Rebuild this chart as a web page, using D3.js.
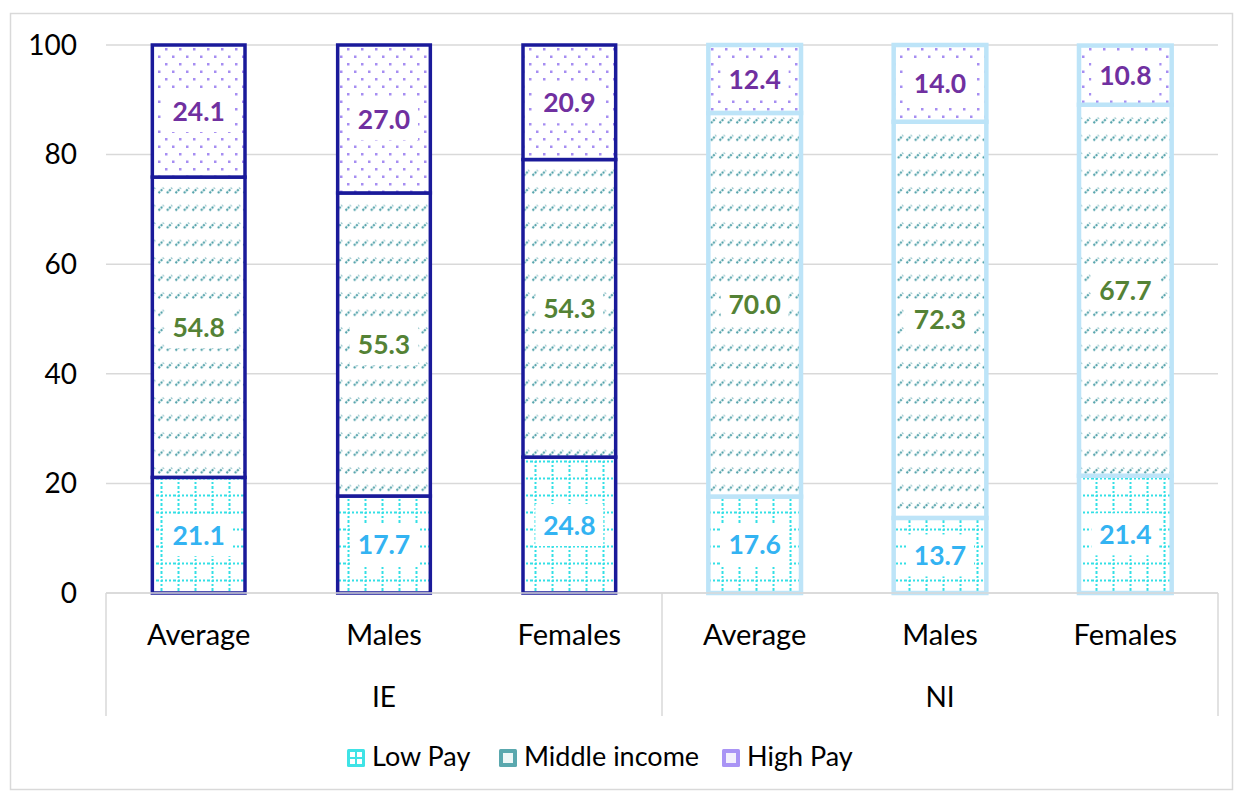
<!DOCTYPE html>
<html>
<head>
<meta charset="utf-8">
<script src="https://cdn.jsdelivr.net/npm/d3@7"></script>
<style>
  body { margin: 0; background: #fff; }
  svg { font-family: Lato, "Noto Sans", sans-serif; }
</style>
</head>
<body>
<div id="wrapper"></div>
<script>
const categories = ["Average", "Males", "Females", "Average", "Males", "Females"];
const groups = ["IE", "NI"];
const groupOf = ["IE", "IE", "IE", "NI", "NI", "NI"];
const lowPay = [21.1, 17.7, 24.8, 17.6, 13.7, 21.4];
const middleIncome = [54.8, 55.3, 54.3, 70.0, 72.3, 67.7];
const highPay = [24.1, 27.0, 20.9, 12.4, 14.0, 10.8];
const seriesNames = ["Low Pay", "Middle income", "High Pay"];
const yTicks = [0, 20, 40, 60, 80, 100];

function drawChart() {
  const dimensions = {
    width: 1236,
    height: 794,
    margin: { top: 45, right: 18, bottom: 201, left: 106 },
  };
  dimensions.boundedWidth = 1218 - dimensions.margin.left;
  dimensions.boundedHeight = 593 - dimensions.margin.top;

  const svg = d3.select("#wrapper").append("svg")
    .attr("width", dimensions.width)
    .attr("height", dimensions.height);

  // chart border
  svg.append("rect")
    .attr("x", 10.5).attr("y", 13.5)
    .attr("width", 1222).attr("height", 776)
    .attr("fill", "#fff")
    .attr("stroke", "#d9d9d9")
    .attr("stroke-width", 1.5);

  const defs = svg.append("defs");

  // low pay: dotted cyan grid
  const pLow = defs.append("pattern")
    .attr("id", "pLow").attr("patternUnits", "userSpaceOnUse")
    .attr("width", 17).attr("height", 17);
  pLow.append("rect").attr("width", 17).attr("height", 17).attr("fill", "#fff");
  pLow.append("path")
    .attr("d", "M4.5,0V17M0,8.5H17")
    .attr("stroke", "#33e0e6").attr("stroke-width", 2)
    .attr("stroke-dasharray", "2,2").attr("fill", "none");

  // middle income: rows of short dashed diagonals
  const pMid = defs.append("pattern")
    .attr("id", "pMid").attr("patternUnits", "userSpaceOnUse")
    .attr("width", 8.5).attr("height", 17.5);
  pMid.append("rect").attr("width", 8.5).attr("height", 17.5).attr("fill", "#fff");
  pMid.append("path")
    .attr("d", "M1.5,8L6.5,3")
    .attr("stroke", "#3f98a1").attr("stroke-width", 2)
    .attr("stroke-dasharray", "2,1.2").attr("fill", "none");

  // high pay: staggered purple dots
  const pHigh = defs.append("pattern")
    .attr("id", "pHigh").attr("patternUnits", "userSpaceOnUse")
    .attr("width", 14).attr("height", 15);
  pHigh.append("rect").attr("width", 14).attr("height", 15).attr("fill", "#fff");
  pHigh.append("rect").attr("x", 3).attr("y", 3).attr("width", 2.5).attr("height", 2.5).attr("fill", "#a68df2");
  pHigh.append("rect").attr("x", 10).attr("y", 10.5).attr("width", 2.5).attr("height", 2.5).attr("fill", "#a68df2");

  const bounds = svg.append("g")
    .attr("transform", `translate(${dimensions.margin.left},${dimensions.margin.top})`);

  const yScale = d3.scaleLinear()
    .domain([0, 100])
    .range([dimensions.boundedHeight, 0]);

  const xScale = d3.scaleBand()
    .domain(d3.range(categories.length))
    .range([0, dimensions.boundedWidth])
    .paddingInner(0.5)
    .paddingOuter(0.25);

  // gridlines
  bounds.append("g").selectAll("line")
    .data(yTicks)
    .join("line")
    .attr("x1", 0).attr("x2", dimensions.boundedWidth)
    .attr("y1", d => yScale(d)).attr("y2", d => yScale(d))
    .attr("stroke", "#d9d9d9").attr("stroke-width", 1.5);

  // y tick labels
  bounds.append("g").selectAll("text")
    .data(yTicks)
    .join("text")
    .attr("x", -29)
    .attr("y", d => yScale(d))
    .attr("dy", "0.35em")
    .attr("text-anchor", "end")
    .attr("font-size", 28)
    .attr("fill", "#000")
    .text(d => d);

  const rows = categories.map((c, i) => ({
    i,
    low: lowPay[i],
    mid: middleIncome[i],
    high: highPay[i],
  }));
  const keys = ["low", "mid", "high"];
  const stacked = d3.stack().keys(keys)(rows);

  const fills = { low: "url(#pLow)", mid: "url(#pMid)", high: "url(#pHigh)" };
  const labelColors = { low: "#33b3f2", mid: "#548235", high: "#7030a0" };
  const strokeFor = i => groupOf[i] === "IE" ? "#1a1a9a" : "#bde4f8";
  const strokeW = i => groupOf[i] === "IE" ? 3.5 : 4.5;

  stacked.forEach(layer => {
    const g = bounds.append("g");
    g.selectAll("rect")
      .data(layer)
      .join("rect")
      .attr("x", d => xScale(d.data.i))
      .attr("y", d => yScale(d[1]))
      .attr("width", xScale.bandwidth())
      .attr("height", d => yScale(d[0]) - yScale(d[1]))
      .attr("fill", fills[layer.key])
      .attr("stroke", d => strokeFor(d.data.i))
      .attr("stroke-width", d => strokeW(d.data.i));
  });

  // data labels
  stacked.forEach(layer => {
    const g = bounds.append("g");
    const lab = g.selectAll("g")
      .data(layer)
      .join("g")
      .attr("transform", d => `translate(${xScale(d.data.i) + xScale.bandwidth() / 2},${yScale((d[0] + d[1]) / 2)})`);
    lab.append("rect")
      .attr("x", -34).attr("y", -21)
      .attr("width", 68).attr("height", 42)
      .attr("fill", "#fff");
    lab.append("text")
      .attr("text-anchor", "middle")
      .attr("dy", "0.36em")
      .attr("font-size", 26.5)
      .attr("font-weight", "bold")
      .attr("fill", labelColors[layer.key])
      .text(d => (d[1] - d[0]).toFixed(1));
  });

  // x axis line
  bounds.append("line")
    .attr("x1", 0).attr("x2", dimensions.boundedWidth)
    .attr("y1", dimensions.boundedHeight).attr("y2", dimensions.boundedHeight)
    .attr("stroke", "#d9d9d9").attr("stroke-width", 1.5);

  // category labels
  bounds.append("g").selectAll("text")
    .data(categories)
    .join("text")
    .attr("x", (d, i) => xScale(i) + xScale.bandwidth() / 2)
    .attr("y", dimensions.boundedHeight + 42)
    .attr("dy", "0.35em")
    .attr("text-anchor", "middle")
    .attr("font-size", 29)
    .text(d => d);

  // group separators and labels
  const groupScale = d3.scaleBand()
    .domain(groups)
    .range([0, dimensions.boundedWidth]);

  bounds.append("g").selectAll("line")
    .data([0, groupScale("NI"), dimensions.boundedWidth])
    .join("line")
    .attr("x1", d => d).attr("x2", d => d)
    .attr("y1", dimensions.boundedHeight).attr("y2", dimensions.boundedHeight + 123)
    .attr("stroke", "#d9d9d9").attr("stroke-width", 1.5);

  bounds.append("g").selectAll("text")
    .data(groups)
    .join("text")
    .attr("x", d => groupScale(d) + groupScale.bandwidth() / 2)
    .attr("y", dimensions.boundedHeight + 104)
    .attr("dy", "0.35em")
    .attr("text-anchor", "middle")
    .attr("font-size", 28)
    .text(d => d);

  // legend
  const legendColors = ["#3fe3e6", "#5aa8ae", "#a994f5"];
  const legendX = [347, 499, 722];
  const legend = svg.append("g").selectAll("g")
    .data(seriesNames)
    .join("g")
    .attr("transform", (d, i) => `translate(${legendX[i]},757)`);
  legend.append("rect")
    .attr("x", 0).attr("y", -8)
    .attr("width", 18).attr("height", 18)
    .attr("rx", 1.5)
    .attr("fill", (d, i) => legendColors[i]);
  // small white marks inside swatches
  legend.filter((d, i) => i === 0).selectAll(".m")
    .data([[3, -5], [10, -5], [3, 2], [10, 2]])
    .join("rect")
    .attr("x", d => d[0]).attr("y", d => d[1])
    .attr("width", 5).attr("height", 5).attr("fill", "#fff");
  legend.filter((d, i) => i === 1).append("rect")
    .attr("x", 4).attr("y", -4).attr("width", 10).attr("height", 10).attr("fill", "#eef7f7");
  legend.filter((d, i) => i === 2).append("rect")
    .attr("x", 4).attr("y", -4).attr("width", 10).attr("height", 10).attr("fill", "#f3f0fd");
  legend.append("text")
    .attr("x", 25)
    .attr("dy", "0.35em")
    .attr("font-size", 27)
    .text(d => d);
}

drawChart();
</script>
</body>
</html>
